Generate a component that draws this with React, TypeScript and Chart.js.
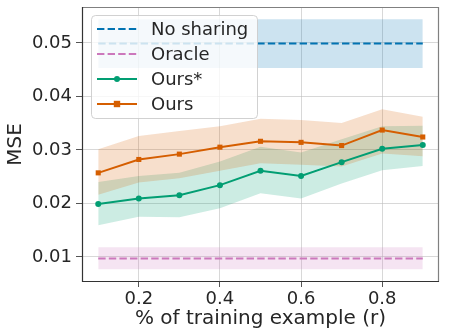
import React, { useEffect, useRef } from "react";
import { Chart, registerables } from "chart.js";

Chart.register(...registerables);

const xValues = [0.1, 0.2, 0.3, 0.4, 0.5, 0.6, 0.7, 0.8, 0.9];

const noSharing = [0.0499, 0.0499, 0.0499, 0.0499, 0.0499, 0.0499, 0.0499, 0.0499, 0.0499];
const noSharingUpper = [0.0544, 0.0544, 0.0544, 0.0544, 0.0544, 0.0544, 0.0544, 0.0544, 0.0544];
const noSharingLower = [0.0453, 0.0453, 0.0453, 0.0453, 0.0453, 0.0453, 0.0453, 0.0453, 0.0453];

const oracle = [0.0097, 0.0097, 0.0097, 0.0097, 0.0097, 0.0097, 0.0097, 0.0097, 0.0097];
const oracleUpper = [0.0118, 0.0118, 0.0118, 0.0118, 0.0118, 0.0118, 0.0118, 0.0118, 0.0118];
const oracleLower = [0.0077, 0.0077, 0.0077, 0.0077, 0.0077, 0.0077, 0.0077, 0.0077, 0.0077];

const oursStar = [0.0199, 0.0209, 0.0215, 0.0234, 0.0261, 0.0251, 0.0277, 0.0302, 0.0309];
const oursStarUpper = [0.024, 0.0251, 0.0257, 0.0278, 0.0306, 0.0295, 0.032, 0.0344, 0.0345];
const oursStarLower = [0.0159, 0.0175, 0.0174, 0.0191, 0.0219, 0.0209, 0.0237, 0.0262, 0.027];

const ours = [0.0257, 0.0282, 0.0292, 0.0305, 0.0316, 0.0314, 0.0308, 0.0337, 0.0324];
const oursUpper = [0.0301, 0.0326, 0.0335, 0.0344, 0.0358, 0.0356, 0.035, 0.0376, 0.0362];
const oursLower = [0.0216, 0.0239, 0.0247, 0.0261, 0.0275, 0.0272, 0.0269, 0.0293, 0.0288];

const yTicks = [0.01, 0.02, 0.03, 0.04, 0.05];
const xTicks = [0.2, 0.4, 0.6, 0.8];

const legendLabels = ["No sharing", "Oracle", "Ours*", "Ours"];

const BLUE = "#0173b2";
const PINK = "#cc78bc";
const GREEN = "#029e73";
const ORANGE = "#d55e00";
const TEXT = "#262626";
const FONT = "DejaVu Sans";

const pts = (ys: number[]) => ys.map((y, i) => ({ x: xValues[i], y }));

const bandPair = (upper: number[], lower: number[], color: string) => [
  {
    data: pts(upper),
    fill: "+1",
    backgroundColor: color,
    borderColor: "transparent",
    borderWidth: 0,
    pointRadius: 0,
    order: 10,
  },
  {
    data: pts(lower),
    fill: false,
    borderColor: "transparent",
    borderWidth: 0,
    pointRadius: 0,
    order: 10,
  },
];

const framePlugin = {
  id: "frame",
  afterDatasetsDraw(chart: any) {
    const { ctx, chartArea: a } = chart;
    ctx.save();
    ctx.lineWidth = 1.2;
    ctx.strokeStyle = "#808080";
    ctx.beginPath();
    ctx.moveTo(a.left, a.top + 0.5);
    ctx.lineTo(a.right - 0.5, a.top + 0.5);
    ctx.lineTo(a.right - 0.5, a.bottom);
    ctx.stroke();
    ctx.strokeStyle = "#333";
    ctx.beginPath();
    ctx.moveTo(a.left + 0.5, a.top);
    ctx.lineTo(a.left + 0.5, a.bottom - 0.5);
    ctx.lineTo(a.right, a.bottom - 0.5);
    ctx.stroke();
    ctx.restore();
  },
};

const legendPlugin = {
  id: "customLegend",
  afterDraw(chart: any) {
    const { ctx } = chart;
    ctx.save();
    const bx = 91.5, by = 15.5, bw = 166, bh = 103, r = 4;
    ctx.beginPath();
    ctx.moveTo(bx + r, by);
    ctx.lineTo(bx + bw - r, by);
    ctx.quadraticCurveTo(bx + bw, by, bx + bw, by + r);
    ctx.lineTo(bx + bw, by + bh - r);
    ctx.quadraticCurveTo(bx + bw, by + bh, bx + bw - r, by + bh);
    ctx.lineTo(bx + r, by + bh);
    ctx.quadraticCurveTo(bx, by + bh, bx, by + bh - r);
    ctx.lineTo(bx, by + r);
    ctx.quadraticCurveTo(bx, by, bx + r, by);
    ctx.closePath();
    ctx.fillStyle = "rgba(255,255,255,0.8)";
    ctx.fill();
    ctx.strokeStyle = "rgba(204,204,204,0.9)";
    ctx.lineWidth = 1;
    ctx.stroke();

    const colors = [BLUE, PINK, GREEN, ORANGE];
    const rows = [29, 54, 79, 104];
    const x0 = 97, x1 = 137;
    legendLabels.forEach((label, i) => {
      const y = rows[i];
      ctx.strokeStyle = colors[i];
      ctx.lineWidth = 2;
      ctx.setLineDash(i < 2 ? [7.4, 3.2] : []);
      ctx.beginPath();
      ctx.moveTo(x0, y);
      ctx.lineTo(x1, y);
      ctx.stroke();
      ctx.setLineDash([]);
      ctx.fillStyle = colors[i];
      if (i === 2) {
        ctx.beginPath();
        ctx.arc((x0 + x1) / 2, y, 3, 0, Math.PI * 2);
        ctx.fill();
      } else if (i === 3) {
        ctx.fillRect((x0 + x1) / 2 - 3.2, y - 3.2, 6.4, 6.4);
      }
      ctx.fillStyle = TEXT;
      ctx.font = `18px "${FONT}"`;
      ctx.textBaseline = "middle";
      ctx.textAlign = "left";
      ctx.fillText(label, 151, y + 1);
    });
    ctx.restore();
  },
};

export default function App() {
  const canvasRef = useRef<HTMLCanvasElement | null>(null);

  useEffect(() => {
    document.body.style.margin = "0";
    const canvas = canvasRef.current;
    if (!canvas) return;
    const chart = new Chart(canvas, {
      type: "line",
      data: {
        datasets: [
          {
            label: "Ours",
            data: pts(ours),
            borderColor: ORANGE,
            backgroundColor: ORANGE,
            borderWidth: 2,
            pointStyle: "rect",
            pointRadius: 3.6,
            pointBorderWidth: 0,
            fill: false,
            order: 0,
          },
          {
            label: "Ours*",
            data: pts(oursStar),
            borderColor: GREEN,
            backgroundColor: GREEN,
            borderWidth: 2,
            pointStyle: "circle",
            pointRadius: 3,
            pointBorderWidth: 0,
            fill: false,
            order: 1,
          },
          {
            label: "Oracle",
            data: pts(oracle),
            borderColor: PINK,
            borderWidth: 2,
            borderDash: [7.4, 3.2],
            pointRadius: 0,
            fill: false,
            order: 2,
          },
          {
            label: "No sharing",
            data: pts(noSharing),
            borderColor: BLUE,
            borderWidth: 2,
            borderDash: [7.4, 3.2],
            pointRadius: 0,
            fill: false,
            order: 3,
          },
          ...bandPair(oursUpper, oursLower, "rgba(213,94,0,0.2)"),
          ...bandPair(oursStarUpper, oursStarLower, "rgba(2,158,115,0.2)"),
          ...bandPair(oracleUpper, oracleLower, "rgba(204,120,188,0.2)"),
          ...bandPair(noSharingUpper, noSharingLower, "rgba(1,115,178,0.2)"),
        ] as any,
      },
      options: {
        responsive: false,
        animation: false,
        devicePixelRatio: 1,
        layout: { padding: { top: 7, right: 10, left: 0, bottom: 0 } },
        plugins: {
          legend: { display: false },
          tooltip: { enabled: false },
        },
        scales: {
          x: {
            type: "linear",
            min: 0.06,
            max: 0.94,
            afterBuildTicks: (scale: any) => {
              scale.ticks = xTicks.map((v) => ({ value: v }));
            },
            afterFit: (scale: any) => {
              scale.height = 54;
              scale.paddingLeft = 0;
              scale.paddingRight = 0;
            },
            ticks: {
              color: TEXT,
              font: { family: FONT, size: 18 },
              padding: 2,
              maxRotation: 0,
              callback: (v: any) => Number(v).toFixed(1),
            },
            grid: {
              color: "rgba(190,190,190,0.6)",
              lineWidth: 1,
              tickLength: 5,
              tickColor: "#555",
            },
            border: { display: false },
            title: {
              display: true,
              text: "% of training example (r)",
              color: TEXT,
              font: { family: FONT, size: 20 },
              padding: { top: 0, bottom: 5 },
            },
          },
          y: {
            type: "linear",
            min: 0.0053,
            max: 0.0567,
            afterBuildTicks: (scale: any) => {
              scale.ticks = yTicks.map((v) => ({ value: v }));
            },
            afterFit: (scale: any) => {
              scale.width = 82;
              scale.paddingTop = 0;
              scale.paddingBottom = 0;
            },
            ticks: {
              color: TEXT,
              font: { family: FONT, size: 18 },
              padding: 4,
              callback: (v: any) => Number(v).toFixed(2),
            },
            grid: {
              color: "rgba(190,190,190,0.6)",
              lineWidth: 1,
              tickLength: 6,
              tickColor: "#555",
            },
            border: { display: false },
            title: {
              display: true,
              text: "MSE",
              color: TEXT,
              font: { family: FONT, size: 20 },
              padding: { top: 4, bottom: 0 },
            },
          },
        },
      },
      plugins: [framePlugin, legendPlugin],
    });
    return () => chart.destroy();
  }, []);

  return (
    <div style={{ width: 449, height: 336 }}>
      <canvas ref={canvasRef} width={449} height={336} style={{ display: "block" }} />
    </div>
  );
}
